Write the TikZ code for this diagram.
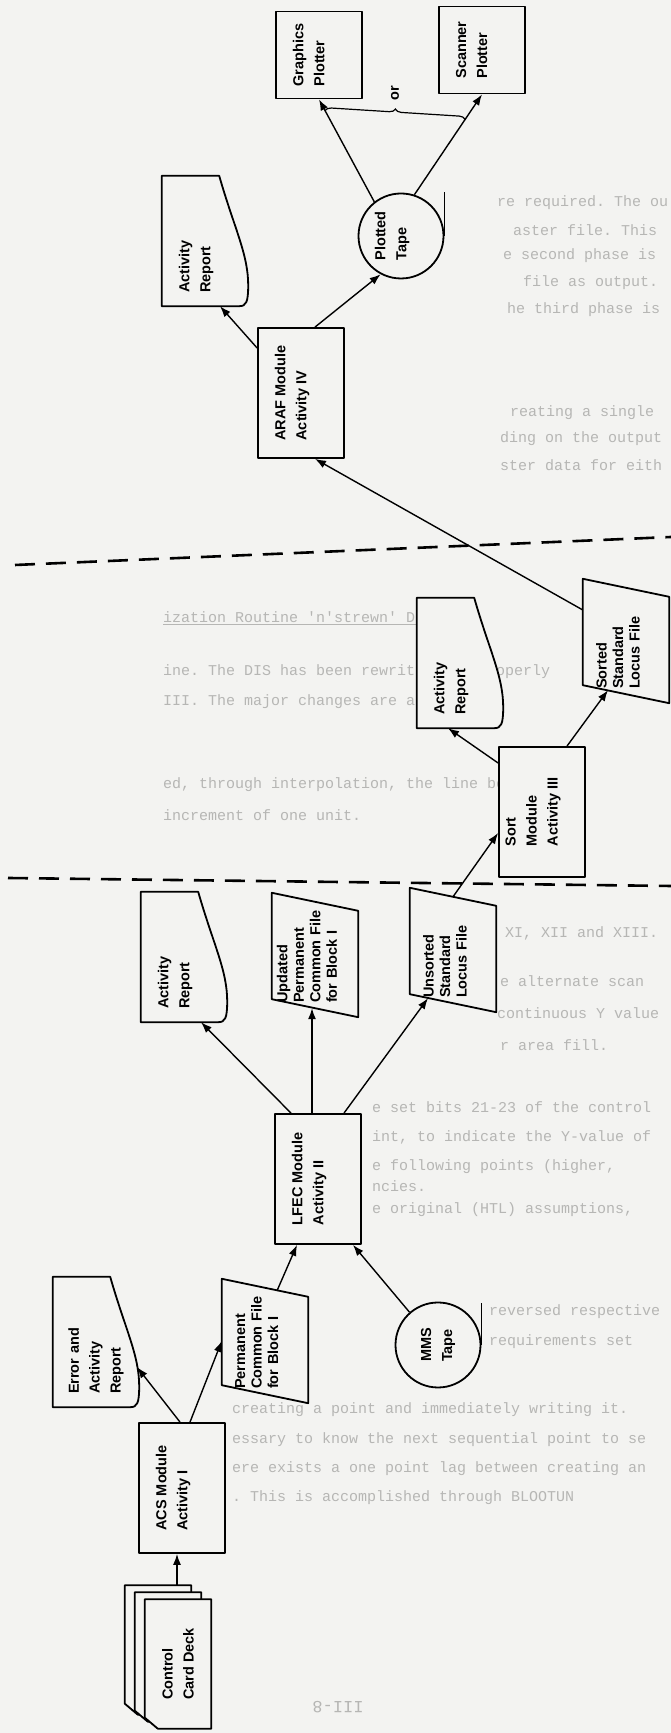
\documentclass[tikz,border=0pt]{standalone}
\usepackage{fontspec}
\setsansfont{Liberation Sans}
\setmonofont{Liberation Mono}
\usetikzlibrary{arrows.meta, calc, decorations.pathreplacing}
\definecolor{paper}{RGB}{243,243,241}
\definecolor{bleed}{RGB}{182,182,180}
\pgfdeclarelayer{bleed}
\pgfdeclarelayer{shapes}
\pgfsetlayers{bleed,shapes,main}

\tikzset{
  boxline/.style={line width=1.8pt, line join=round},
  lbl/.style={font=\sffamily\bfseries\fontsize{14.5}{21}\selectfont, align=left, inner sep=0pt},
  module/.style={lbl, draw, boxline, fill=paper, minimum width=130pt, minimum height=86pt},
  plotter/.style={module, minimum width=87pt},
  docbody/.style={lbl, text width=104pt, minimum width=130pt, minimum height=86pt},
  filebody/.style={lbl, font=\sffamily\bfseries\fontsize{14.5}{16.5}\selectfont, text width=96pt, minimum width=106pt, minimum height=86pt},
  cardbody/.style={lbl, minimum width=129pt, minimum height=66pt},
  tape/.style={lbl, circle, draw, boxline, fill=paper, minimum size=85pt},
  flow/.style={line width=1.4pt, -{Latex[length=11pt,width=8pt]}},
  phase/.style={line width=2.6pt, dash pattern=on 20pt off 11pt},
  bgtext/.style={anchor=west, inner sep=0pt, text=bleed, font=\ttfamily\fontsize{15}{15}\selectfont},
}

% empty last line: sets a label a little above the middle
\newcommand{\lift}{\\\mbox{}}

% outlines drawn round the text nodes
\newcommand{\cardoutline}[1]{%
  \draw[boxline, fill=paper] ($(#1.north west)+(11,0)$) -- (#1.north east) -- (#1.south east)
    -- (#1.south west) -- ($(#1.north west)+(0,-13)$) -- cycle;}
\newcommand{\docoutline}[1]{%
  \draw[boxline, fill=paper] (#1.north west) -- (#1.north east) -- ($(#1.south east)+(0,29)$)
    .. controls ($(#1.south west)+(78,14)$) and ($(#1.south west)+(52,0)$) .. ($(#1.south west)+(21,0)$)
    .. controls ($(#1.south west)+(4,0)$) and ($(#1.south west)+(0,2)$) .. ($(#1.south west)+(0,9)$)
    -- cycle;}
\newcommand{\fileoutline}[1]{%
  \draw[boxline, fill=paper] ($(#1.north west)+(9,0)$) -- ($(#1.north east)+(9,0)$)
    -- ($(#1.south east)+(-9,0)$) -- ($(#1.south west)+(-9,0)$) -- cycle;}

\begin{document}
\begin{tikzpicture}[x=1pt, y=1pt]
\useasboundingbox (0,0) rectangle (671,1733);

% text of the page showing through
\begin{pgfonlayer}{bleed}
  \fill[paper] (0,0) rectangle (671,1733);
  \begin{scope}[shift={(0,1733)}, y=-1pt]
    \clip (0,0) rectangle (671,1733);
    \foreach \x/\y/\t in {
        497/203/{re required. The ou},
        513/230/{aster file. This},
        503/256/{e second phase is},
        523/283/{file as output.},
        507/310/{he third phase is},
        510/413/{reating a single},
        500/439/{ding on the output},
        500/465/{ster data for eith},
        163/618/{\underline{ization Routine 'n'strewn' DIS}},
        163/672/{ine. The DIS has been rewritten to properly},
        163/702/{III. The major changes are as follows:},
        163/785/{ed, through interpolation, the line betwe},
        163/815/{increment of one unit.},
        505/933/{XI, XII and XIII.},
        500/981/{e alternate scan},
        497/1013/{continuous Y value},
        500/1045/{r area fill.},
        372/1107/{e set bits 21-23 of the control},
        372/1137/{int, to indicate the Y-value of},
        372/1167/{e following points (higher,},
        372/1186/{ncies.},
        372/1210/{e original (HTL) assumptions,},
        489/1312/{reversed respective},
        489/1342/{requirements set},
        232/1410/{creating a point and immediately writing it.},
        232/1440/{essary to know the next sequential point to se},
        232/1469/{ere exists a one point lag between creating an},
        232/1498/{. This is accomplished through BLOOTUN}}
      \node[bgtext] (bg\y) at (\x,\y) {\t};
    \node[bgtext, anchor=center, rotate=180, font=\ttfamily\fontsize{17}{17}\selectfont] (pageno) at (338,1707) {III-8};
  \end{scope}
\end{pgfonlayer}

% the chart is laid out sideways on the page
\begin{scope}[rotate=90, transform shape]
  % input deck
  \node[cardbody] (c3) at (83,-158) {};
  \node[cardbody] (c2) at (76,-168) {};
  \node[cardbody] (deck) at (69,-178) {Control\\Card Deck};

  % activity modules
  \node[module] (acs) at (245,-182) {ACS Module\\Activity I\lift};
  \node[module] (lfec) at (554,-318) {LFEC Module\\Activity II\lift};
  \node[module] (sort) at (921,-542) {Sort\\Module\\Activity III\lift};
  \node[module] (araf) at (1340,-301) {ARAF Module\\Activity IV\lift};
  \node[plotter] (gplot) at (1678,-319) {Graphics\\Plotter\lift};
  \node[plotter] (splot) at (1683,-482) {Scanner\\Plotter\lift};

  % reports
  \node[docbody] (err) at (391,-96) {Error and\\Activity\\Report};
  \node[docbody] (act1) at (776,-184) {Activity\\Report\lift};
  \node[docbody] (act2) at (1070,-460) {Activity\\Report\lift};
  \node[docbody] (act3) at (1492,-205) {Activity\\Report\lift};

  % files
  \node[filebody] (perm) at (392,-265) {Permanent\\Common File\\for Block I\lift};
  \node[filebody] (upd) at (778,-315) {Updated\\Permanent\\Common File\\for Block I\lift};
  \node[filebody] (unsort) at (783,-453) {Unsorted\\Standard\\Locus File\lift};
  \node[filebody] (sorted) at (1092,-626) {Sorted\\Standard\\Locus File\lift};

  % tapes
  \node[tape] (mms) at (388,-438) {MMS\\Tape};
  \node[tape] (ptape) at (1497,-401) {Plotted\\Tape\lift};
  \draw[boxline] (mms.south) -- ++(42,0);
  \draw[boxline] (ptape.south) -- ++(44,0);

  \begin{pgfonlayer}{shapes}
    \foreach \c in {c3,c2,deck} {\cardoutline{\c}}
    \foreach \d in {err,act1,act2,act3} {\docoutline{\d}}
    \foreach \f in {perm,upd,unsort,sorted} {\fileoutline{\f}}
  \end{pgfonlayer}

  % phase boundaries
  \draw[phase] (855,-8) -- (847,-671);
  \draw[phase] (1168,-15) -- (1196,-671);

  % data flow
  \draw[flow] ($(c3.east)+(0,-19)$) -- ($(acs.west)+(0,5)$);
  \draw[flow] ($(acs.east)+(0,2)$) -- ($(err.south west)+(40,2)$);
  \draw[flow] ($(acs.east)+(0,-8)$) -- (perm.north);
  \draw[flow] ($(perm.east)+(-3,-12)$) -- ($(lfec.west)+(0,21)$);
  \draw[flow] (mms.41) -- ($(lfec.west)+(0,-35)$);
  \draw[flow] ($(lfec.east)+(0,27)$) -- ($(act1.west)+(0,-17)$);
  \draw[flow] ($(lfec.east)+(0,6)$) -- ($(upd.west)+(0,3)$);
  \draw[flow] ($(lfec.east)+(0,-26)$) -- ($(unsort.west)+(5,25)$);
  \draw[flow] (unsort.east) -- ($(sort.north)+(-21,0)$);
  \draw[flow] ($(sort.north)+(49,0)$) -- ($(act2.west)+(0,12)$);
  \draw[flow] ($(sort.east)+(0,-25)$) -- ($(sorted.west)+(4,18)$);
  \draw[flow] ($(sorted.north)+(31,0)$) -- ($(araf.west)+(0,-14)$);
  \draw[flow] ($(araf.north)+(45,0)$) -- ($(act3.west)+(0,-15)$);
  \draw[flow] ($(araf.east)+(0,-14)$) -- (ptape.152);
  \draw[flow] (ptape.38) -- coordinate[pos=0.89] (orA) (gplot.west);
  \draw[flow] (ptape.-18) -- coordinate[pos=0.75] (orB) (splot.west);

  % either plotter
  \draw[line width=1.2pt, decorate, decoration={brace, amplitude=6pt}] (orA) -- (orB);
  \node[lbl] (orlbl) at ($(orA)!0.5!(orB)+(22,0)$) {or};
\end{scope}
\end{tikzpicture}
\end{document}
